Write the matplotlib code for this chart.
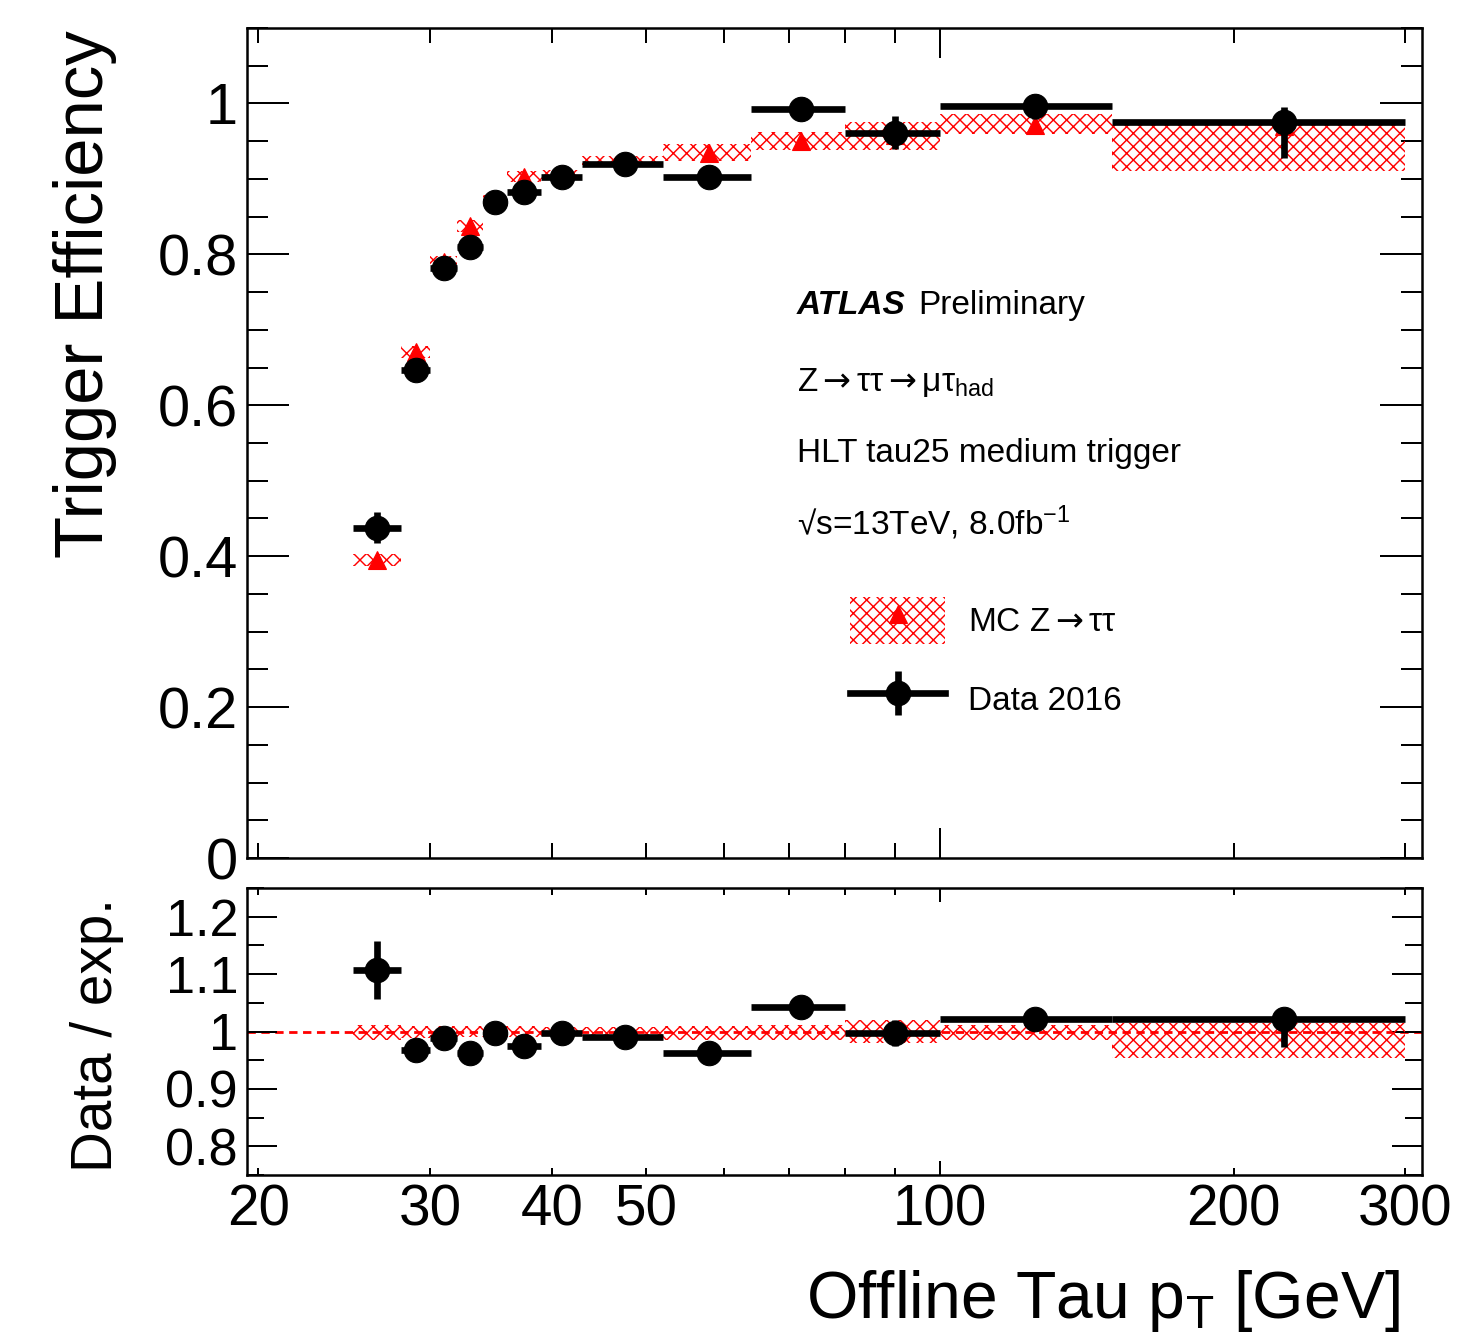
import matplotlib
matplotlib.use('Agg')
import matplotlib.pyplot as plt
import numpy as np
from matplotlib.ticker import FixedLocator, FuncFormatter, MultipleLocator, NullFormatter
from matplotlib.patches import Patch
from matplotlib.lines import Line2D
from matplotlib.legend_handler import HandlerTuple

plt.rcParams['font.family'] = ['Liberation Sans', 'DejaVu Sans']
plt.rcParams['mathtext.fontset'] = 'custom'
plt.rcParams['mathtext.rm'] = 'Liberation Sans'
plt.rcParams['mathtext.it'] = 'Liberation Sans:italic'
plt.rcParams['mathtext.sf'] = 'DejaVu Sans'
plt.rcParams['hatch.linewidth'] = 1.3

# bin edges in offline tau pT [GeV]
edges = [25, 28, 30, 32, 34, 36, 39, 43, 52, 64, 80, 100, 150, 300]

# data 2016 efficiency
data = [0.438, 0.647, 0.782, 0.810, 0.869, 0.882, 0.903, 0.920, 0.903, 0.993, 0.961, 0.996, 0.975]
data_err_lo = [0.020, 0.012, 0.010, 0.010, 0.008, 0.008, 0.008, 0.008, 0.015, 0.016, 0.022, 0.016, 0.047]
data_err_hi = [0.020, 0.012, 0.010, 0.010, 0.008, 0.008, 0.008, 0.008, 0.015, 0.016, 0.022, 0.016, 0.020]

# MC Z->tautau efficiency
mc = [0.395, 0.670, 0.790, 0.837, 0.872, 0.903, 0.906, 0.924, 0.935, 0.950, 0.958, 0.972, 0.970]
mc_err_lo = [0.008, 0.008, 0.008, 0.008, 0.007, 0.007, 0.006, 0.006, 0.011, 0.012, 0.020, 0.012, 0.060]
mc_err_hi = [0.008, 0.008, 0.008, 0.008, 0.007, 0.007, 0.006, 0.006, 0.011, 0.012, 0.018, 0.014, 0.005]

# data / expectation
ratio = [1.107, 0.967, 0.988, 0.963, 0.998, 0.975, 0.998, 0.990, 0.963, 1.042, 0.997, 1.021, 1.021]
ratio_band_lo = [0.985, 0.988, 0.990, 0.990, 0.990, 0.990, 0.992, 0.992, 0.985, 0.985, 0.980, 0.985, 0.953]
ratio_band_hi = [1.012, 1.010, 1.010, 1.010, 1.010, 1.010, 1.008, 1.008, 1.010, 1.012, 1.020, 1.012, 1.014]

edges = np.array(edges, dtype=float)
data = np.array(data)
mc = np.array(mc)
ratio = np.array(ratio)
data_err_lo = np.array(data_err_lo)
data_err_hi = np.array(data_err_hi)
mc_lo = mc - np.array(mc_err_lo)
mc_hi = mc + np.array(mc_err_hi)
rb_lo = np.array(ratio_band_lo)
rb_hi = np.array(ratio_band_hi)

centers = 0.5 * (edges[:-1] + edges[1:])
half = 0.5 * np.diff(edges)

W, H, DPI = 1465, 1342, 80
fig = plt.figure(figsize=(W / DPI, H / DPI), dpi=DPI)
ax = fig.add_axes([247 / W, 1 - 858 / H, 1175 / W, 830 / H])
rax = fig.add_axes([247 / W, 1 - 1175 / H, 1175 / W, 287 / H])

xlim = (19.48, 312)
hatch = 'xx'

# ---- top panel
ax.bar(edges[:-1], mc_hi - mc_lo, width=np.diff(edges), bottom=mc_lo, align='edge',
       fill=False, hatch=hatch, edgecolor='red', linewidth=0, zorder=2)
ax.plot(centers, mc, ls='none', marker='^', color='red', ms=17, zorder=3)
ax.errorbar(centers, data, xerr=half, yerr=[data_err_lo, data_err_hi], fmt='o',
            color='black', ms=22, elinewidth=6, capsize=0, zorder=4)

# ---- ratio panel
rax.axhline(1.0, color='red', lw=2.5, ls=(0, (3, 2)), zorder=1)
rax.bar(edges[:-1], rb_hi - rb_lo, width=np.diff(edges), bottom=rb_lo, align='edge',
        fill=False, hatch=hatch, edgecolor='red', linewidth=0, zorder=2)
rax.errorbar(centers, ratio, xerr=half, yerr=[data_err_lo / mc, data_err_hi / mc], fmt='o',
             color='black', ms=22, elinewidth=6, capsize=0, zorder=4)

labelled = {20: '20', 30: '30', 40: '40', 50: '50', 200: '200', 300: '300'}

for a in (ax, rax):
    a.set_xscale('log')
    a.set_xlim(*xlim)
    a.xaxis.set_major_locator(FixedLocator([100]))
    a.xaxis.set_minor_locator(FixedLocator([20, 30, 40, 50, 60, 70, 80, 90, 200, 300]))
    for s in a.spines.values():
        s.set_linewidth(2.25)
    a.tick_params(which='both', direction='in', top=True, right=True, width=1.8)

ax.set_ylim(0, 1.1)
ax.yaxis.set_major_locator(MultipleLocator(0.2))
ax.yaxis.set_minor_locator(MultipleLocator(0.05))
ax.yaxis.set_major_formatter(FuncFormatter(lambda v, p: '%g' % round(v, 2)))
ax.xaxis.set_major_formatter(NullFormatter())
ax.xaxis.set_minor_formatter(NullFormatter())
ax.tick_params(axis='y', which='major', length=38, labelsize=52, pad=8)
ax.tick_params(axis='y', which='minor', length=19)
ax.tick_params(axis='x', which='major', length=27)
ax.tick_params(axis='x', which='minor', length=13.5)

rax.set_ylim(0.75, 1.25)
rax.yaxis.set_major_locator(FixedLocator([0.8, 0.9, 1.0, 1.1, 1.2]))
rax.yaxis.set_minor_locator(MultipleLocator(0.05))
rax.yaxis.set_major_formatter(FuncFormatter(lambda v, p: '%g' % round(v, 2)))
rax.xaxis.set_major_formatter(FuncFormatter(lambda v, p: '100'))
rax.xaxis.set_minor_formatter(FuncFormatter(lambda v, p: labelled.get(int(round(v)), '')))
rax.tick_params(axis='y', which='major', length=27, labelsize=47, pad=8)
rax.tick_params(axis='y', which='minor', length=15)
rax.tick_params(axis='x', which='major', length=12.6, labelsize=51, pad=8)
rax.tick_params(axis='x', which='minor', length=6.3, labelsize=51, pad=8)

# axis titles
fig.text(85 / W, 1 - 30 / H, 'Trigger Efficiency', rotation=90, ha='center', va='top', fontsize=62)
fig.text(97 / W, 1 - 898 / H, 'Data / exp.', rotation=90, ha='center', va='top', fontsize=51)
fig.text(1400 / W, 1 - 1318 / H, r'Offline Tau p$_{\mathregular{T}}$ [GeV]', ha='right',
         va='baseline', fontsize=59.5)

# labels
arrow = r'$\mathsf{\rightarrow}$'
tx = 0.4681
ax.text(tx, 0.6554, 'ATLAS', transform=ax.transAxes, fontsize=30, fontweight='bold',
        fontstyle='italic', va='baseline')
ax.text(0.571, 0.6554, 'Preliminary', transform=ax.transAxes, fontsize=30, va='baseline')
ax.text(tx, 0.5627, 'Z' + arrow + 'ττ' + arrow + r'μτ$_{\mathregular{had}}$',
        transform=ax.transAxes, fontsize=30, va='baseline')
ax.text(tx, 0.4771, 'HLT tau25 medium trigger', transform=ax.transAxes, fontsize=30, va='baseline')
ax.text(tx, 0.3892, r'√s=13TeV, 8.0fb$^{\mathregular{-1}}$', transform=ax.transAxes, fontsize=30,
        va='baseline')

mc_handle = (Patch(fill=False, hatch=hatch, edgecolor='red', linewidth=0),
             Line2D([], [], ls='none', marker='^', color='red', ms=17))
data_handle = (Line2D([], [], color='black', lw=6, marker='o', ms=22),
               Line2D([], [], ls='none', marker='|', color='black', ms=40, mew=6))
ax.legend([mc_handle, data_handle], ['MC Z' + arrow + 'ττ', 'Data 2016'],
          handler_map={tuple: HandlerTuple(ndivide=1, pad=0)},
          loc='upper left', bbox_to_anchor=(0.5132, 0.3145), bbox_transform=ax.transAxes,
          frameon=False, borderpad=0, borderaxespad=0, fontsize=30, numpoints=1,
          handlelength=2.85, handleheight=1.8, labelspacing=0.95, handletextpad=0.69)

fig.savefig('out.png', dpi=DPI)
